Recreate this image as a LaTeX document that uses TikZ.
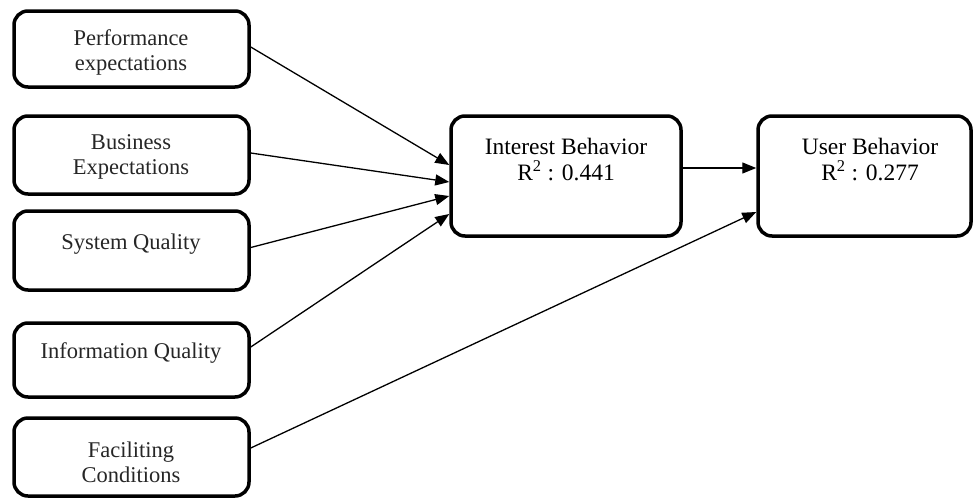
\documentclass[tikz,border=0pt]{standalone}
\usepackage{fontspec}
\setmainfont{Liberation Serif}
\usetikzlibrary{arrows.meta}
\begin{document}
\begin{tikzpicture}[x=1pt,y=-1pt,
  box/.style={draw=black, line width=3.5pt, rounded corners=14pt, rectangle, inner sep=0pt},
  lbl/.style={align=center, font=\fontsize{22.5}{25}\selectfont, text=black!85},
  rlbl/.style={align=center, font=\fontsize{23.5}{26}\selectfont, text=black},
  conn/.style={line width=1.3pt, -{Triangle[length=14pt,width=11pt]}}
]
\useasboundingbox (0,0) rectangle (973,498);
% left boxes
\node[box, minimum width=235pt, minimum height=76pt] (b1) at (131.5,49) {};
\node[box, minimum width=235pt, minimum height=78pt] (b2) at (131.5,155) {};
\node[box, minimum width=235pt, minimum height=79pt] (b3) at (131.5,250.5) {};
\node[box, minimum width=235pt, minimum height=74pt] (b4) at (131.5,360) {};
\node[box, minimum width=235pt, minimum height=78pt] (b5) at (131.5,457) {};
% right boxes
\node[box, minimum width=230pt, minimum height=120pt] (ib) at (566,176) {};
\node[box, minimum width=213pt, minimum height=120pt] (ub) at (864.5,176) {};
% texts
\node[lbl] (t1) at (131,52) {Performance\\expectations};
\node[lbl] (t2) at (131,157) {Business\\Expectations};
\node[lbl] (t3) at (131,244) {System Quality};
\node[lbl] (t4) at (131,353) {Information Quality};
\node[lbl] (t5) at (131,462) {Faciliting\\Conditions};
\node[rlbl] (it) at (566,160) {Interest Behavior\\R\textsuperscript{2} : 0.441};
\node[rlbl] (ut) at (870,160) {User Behavior\\R\textsuperscript{2} : 0.277};
% connectors
\draw[conn] ([yshift=2pt]b1.east) -- ([yshift=11pt]ib.west);
\draw[conn] ([yshift=2pt]b2.east) -- ([yshift=-6pt]ib.west);
\draw[conn] ([yshift=3pt]b3.east) -- ([yshift=-20pt]ib.west);
\draw[conn] ([yshift=13pt]b4.east) -- ([yshift=-38pt]ib.west);
\draw[conn] ([yshift=9pt]b5.east) -- ([yshift=-36pt]ub.west);
\draw[conn] ([yshift=8pt]ib.east) -- ([yshift=8pt]ub.west);
\end{tikzpicture}
\end{document}
